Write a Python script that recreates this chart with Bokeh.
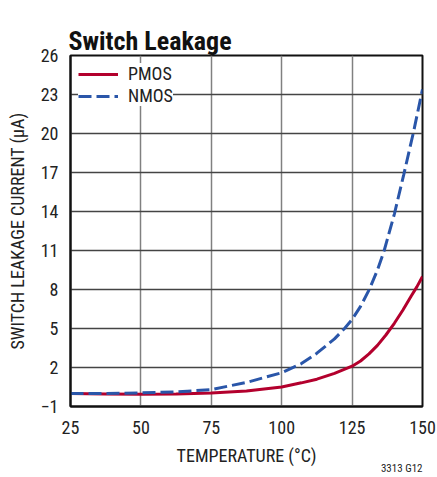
from bokeh.plotting import figure
from bokeh.models import Legend, LegendItem, FixedTicker, Title
from bokeh.embed import file_html
from bokeh.resources import INLINE

# Data
temp_pmos = [25, 37.5, 50, 62.5, 75, 87.5, 100, 107, 112.5, 118.75, 125, 128, 131, 134, 137, 140, 143, 146, 148, 150]
pmos_ua = [0.0, -0.03, -0.06, -0.04, 0.04, 0.2, 0.5, 0.82, 1.1, 1.55, 2.1, 2.5, 3.05, 3.7, 4.5, 5.4, 6.4, 7.5, 8.2, 9.0]

temp_nmos = [25, 37.5, 50, 62.5, 75, 87.5, 100, 107, 112.5, 118.75, 122.3, 125, 128, 131.1, 134, 136.4, 140, 143.3, 146.8, 150]
nmos_ua = [0.0, 0.0, 0.05, 0.12, 0.3, 0.85, 1.6, 2.3, 3.1, 4.2, 5.0, 5.7, 6.7, 8.0, 9.5, 11.0, 13.8, 16.8, 20.1, 23.4]

x_ticks = [25, 50, 75, 100, 125, 150]
y_ticks = [-1, 2, 5, 8, 11, 14, 17, 20, 23, 26]

FONT = "Roboto Condensed"
FW, FH = 352, 351

p = figure(title=None, frame_width=FW, frame_height=FH, x_range=(25, 150), y_range=(-1, 26),
           output_backend="svg", toolbar_location=None,
           min_border_left=70, min_border_right=14, min_border_top=55, min_border_bottom=70)

# visible title, then an invisible spacer that sits between it and the frame
p.add_layout(Title(text="Switch Leakage", text_font=FONT, text_font_size="26px",
                   text_font_style="bold", text_color="#111111", align="left",
                   vertical_align="bottom", offset=-2, standoff=0), "above")
p.add_layout(Title(text=".", text_font=FONT, text_font_size="10px", text_alpha=0.0,
                   standoff=7), "above")

p.add_layout(Title(text="3313 G12", align="right", vertical_align="middle", text_font=FONT,
                   text_font_size="11px", text_font_style="normal",
                   text_color="#222222", standoff=-17), "below")

r_p = p.line(temp_pmos, pmos_ua, line_color="#b3002d", line_width=3)
r_n = p.line(temp_nmos, nmos_ua, line_color="#2a56a9", line_width=3, line_dash="13 5")

legend = Legend(items=[LegendItem(label="PMOS", renderers=[r_p]),
                       LegendItem(label="NMOS", renderers=[r_n])],
                location="top_left")
legend.label_text_font = FONT
legend.label_text_font_size = "18px"
legend.label_text_color = "#222222"
legend.border_line_color = None
legend.background_fill_color = "white"
legend.background_fill_alpha = 1.0
legend.glyph_width = 40
legend.glyph_height = 20
legend.label_height = 20
legend.label_standoff = 10
legend.spacing = 1
legend.padding = 7
legend.margin = 8
p.add_layout(legend)

p.xaxis.ticker = FixedTicker(ticks=x_ticks)
p.yaxis.ticker = FixedTicker(ticks=y_ticks)
p.yaxis.major_label_overrides = {-1: "\u22121"}

for ax in (p.xaxis[0], p.yaxis[0]):
    ax.major_label_text_font = FONT
    ax.major_label_text_font_size = "18px"
    ax.major_label_text_color = "#222222"
    ax.axis_label_text_font = FONT
    ax.axis_label_text_font_size = "18px"
    ax.axis_label_text_font_style = "normal"
    ax.axis_label_text_color = "#222222"
    ax.major_tick_in = 0
    ax.major_tick_out = 0
    ax.minor_tick_in = 0
    ax.minor_tick_out = 0
    ax.axis_line_color = "#111111"
    ax.axis_line_width = 2

p.xaxis.major_label_standoff = 14
p.yaxis.major_label_standoff = 12
p.xaxis.axis_label = "TEMPERATURE (\u00b0C)"
p.yaxis.axis_label = "SWITCH LEAKAGE CURRENT (\u00b5A)"
p.xaxis.axis_label_standoff = 8
p.yaxis.axis_label_standoff = 10

p.xgrid.grid_line_color = "#808080"
p.xgrid.grid_line_width = 1.5
p.ygrid.grid_line_color = "#444444"
p.ygrid.grid_line_width = 1.3

p.outline_line_color = "#111111"
p.outline_line_width = 2

open("out.html", "w").write(file_html(p, INLINE))
